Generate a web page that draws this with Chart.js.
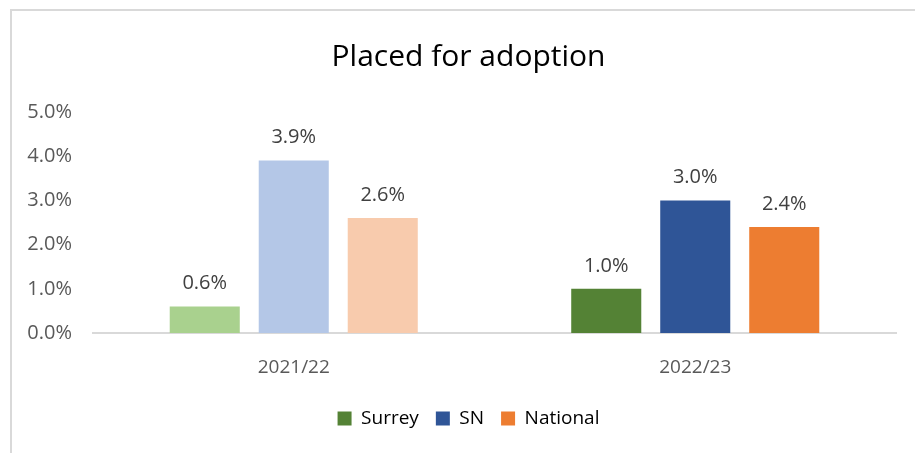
<!DOCTYPE html>
<html>
<head>
<meta charset="utf-8">
<script src="https://cdn.jsdelivr.net/npm/chart.js@4.4.1/dist/chart.umd.min.js"></script>
<style>
  body { margin: 0; background: #fff; }
  #wrap { position: relative; width: 915px; height: 453px; }
  #frame { position: absolute; left: 10px; top: 9px; right: -5px; bottom: -5px;
           border-left: 2px solid #d9d9d9; border-top: 2px solid #d9d9d9; }
  canvas { position: absolute; left: 0; top: 0; }
</style>
</head>
<body>
<div id="wrap">
  <div id="frame"></div>
  <canvas id="chartAdopcion" width="915" height="453"></canvas>
</div>
<script>
const years = ['2021/22', '2022/23']
const surrey = [0.6, 1.0]
const sn = [3.9, 3.0]
const national = [2.6, 2.4]
const yTicks = [0, 1, 2, 3, 4, 5]

// first year shown faded, second year in full colour
const surreyColors = ['#a9d18e', '#548235']
const snColors = ['#b4c7e7', '#2f5597']
const nationalColors = ['#f8cbad', '#ed7d31']

const fontFamily = '"Open Sans", Lato, sans-serif'

// labels above each bar
const barLabels = {
    id: 'barLabels',
    afterDatasetsDraw(chart) {
        const ctx = chart.ctx
        ctx.save()
        ctx.font = '20px ' + fontFamily
        ctx.fillStyle = '#404040'
        ctx.textAlign = 'center'
        ctx.textBaseline = 'bottom'
        chart.data.datasets.forEach((ds, i) => {
            chart.getDatasetMeta(i).data.forEach((bar, j) => {
                ctx.fillText(ds.data[j].toFixed(1) + '%', bar.x, bar.y - 13)
            })
        })
        ctx.restore()
    }
}

function placedChart(ctx) {
    const chart = new Chart(ctx, {
        type: 'bar',
        data: {
            labels: years,
            datasets: [
                { label: 'Surrey', data: surrey, backgroundColor: surreyColors },
                { label: 'SN', data: sn, backgroundColor: snColors },
                { label: 'National', data: national, backgroundColor: nationalColors }
            ]
        },
        options: {
            responsive: false,
            animation: false,
            categoryPercentage: 0.665,
            barPercentage: 0.787,
            layout: { padding: { left: 22, right: 0, top: 0, bottom: 15 } },
            scales: {
                y: {
                    min: 0,
                    max: 5,
                    afterBuildTicks: axis => { axis.ticks = yTicks.map(v => ({ value: v })) },
                    afterFit: axis => { axis.width = 71 },
                    border: { display: false },
                    grid: { display: false, drawTicks: false },
                    ticks: {
                        padding: 21,
                        color: '#595959',
                        font: { family: fontFamily, size: 20 },
                        callback: v => v.toFixed(1) + '%'
                    }
                },
                // empty spacer on the right so title and legend sit where the original has them
                spacer: {
                    type: 'linear',
                    position: 'right',
                    afterFit: axis => { axis.width = 19 },
                    border: { display: false },
                    grid: { display: false, drawTicks: false },
                    ticks: { display: false }
                },
                x: {
                    afterFit: axis => { axis.height = 59 },
                    border: { display: true, color: '#d9d9d9', width: 2 },
                    grid: { display: false, drawTicks: false },
                    ticks: {
                        padding: 23,
                        color: '#595959',
                        font: { family: fontFamily, size: 19 }
                    }
                }
            },
            plugins: {
                title: {
                    display: true,
                    text: 'Placed for adoption',
                    color: '#000',
                    font: { family: fontFamily, size: 30, weight: 'normal' },
                    padding: { top: 39, bottom: 37 }
                },
                legend: {
                    position: 'bottom',
                    labels: {
                        boxWidth: 14,
                        boxHeight: 14,
                        padding: 17,
                        color: '#595959',
                        font: { family: fontFamily, size: 19 },
                        generateLabels: c => c.data.datasets.map((ds, i) => ({
                            text: ds.label,
                            fillStyle: ds.backgroundColor[1],
                            strokeStyle: ds.backgroundColor[1],
                            lineWidth: 0,
                            datasetIndex: i
                        }))
                    }
                },
                tooltip: { enabled: false }
            }
        },
        plugins: [barLabels]
    })
}

placedChart(document.querySelector('#chartAdopcion').getContext('2d'))
</script>
</body>
</html>
